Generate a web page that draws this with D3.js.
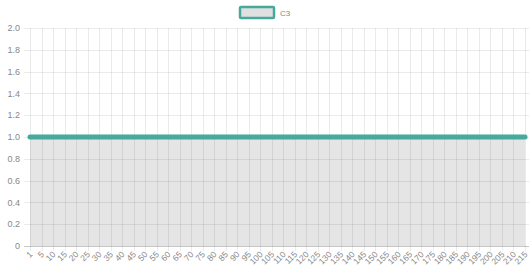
<!DOCTYPE html>
<html>
<head>
<meta charset="utf-8">
<script src="https://cdn.jsdelivr.net/npm/d3@7"></script>
<style>
  body { margin: 0; background: #fff; }
  svg { display: block; font-family: "Helvetica Neue", Helvetica, Arial, "Liberation Sans", sans-serif; }
</style>
</head>
<body>
<svg class="canvas"></svg>
<script>
// chart data
const labels = ["1", "5", "10", "15", "20", "25", "30", "35", "40", "45", "50", "55", "60", "65", "70",
  "75", "80", "85", "90", "95", "100", "105", "110", "115", "120", "125", "130", "135", "140", "145",
  "150", "155", "160", "165", "170", "175", "180", "185", "190", "195", "200", "205", "210", "215"];
const c3 = [1, 1, 1, 1, 1, 1, 1, 1, 1, 1, 1, 1, 1, 1, 1, 1, 1, 1, 1, 1, 1, 1,
  1, 1, 1, 1, 1, 1, 1, 1, 1, 1, 1, 1, 1, 1, 1, 1, 1, 1, 1, 1, 1, 1];
const yTicks = [0, 0.2, 0.4, 0.6, 0.8, 1.0, 1.2, 1.4, 1.6, 1.8, 2.0];
const seriesName = "C3";

const wWidth = 529, wHeight = 280;
const margin = {top: 28, right: 4, bottom: 34, left: 30};
const graphWidth = wWidth - margin.left - margin.right;
const graphHeight = wHeight - margin.top - margin.bottom;

const lineColor = "#46a99c";
const gridColor = "rgba(0,0,0,0.08)";
const textColor = "#888";

const svg = d3.select(".canvas").attr("width", wWidth).attr("height", wHeight);
const graph = svg.append("g").attr("transform", `translate(${margin.left}, ${margin.top})`);

const xScale = d3.scalePoint().domain(labels).range([0, graphWidth]);
const yScale = d3.scaleLinear().domain([0, 2]).range([graphHeight, 0]);

// horizontal grid
graph.append("g").selectAll("line").data(yTicks).enter().append("line")
  .attr("x1", -6).attr("x2", graphWidth + margin.right)
  .attr("y1", d => Math.round(yScale(d)) + 0.5).attr("y2", d => Math.round(yScale(d)) + 0.5)
  .attr("stroke", d => d === 0 ? "rgba(0,0,0,0.22)" : gridColor);

// vertical grid
graph.append("g").selectAll("line").data(labels).enter().append("line")
  .attr("x1", d => Math.round(xScale(d)) + 0.5).attr("x2", d => Math.round(xScale(d)) + 0.5)
  .attr("y1", 0).attr("y2", graphHeight + 5)
  .attr("stroke", gridColor);

// y labels
graph.append("g").selectAll("text").data(yTicks).enter().append("text")
  .attr("x", -10).attr("y", d => yScale(d)).attr("dy", "0.35em")
  .attr("text-anchor", "end").attr("font-size", 9).attr("fill", textColor)
  .text(d => d === 0 ? "0" : d3.format(".1f")(d));

// x labels, rotated
graph.append("g").selectAll("text").data(labels).enter().append("text")
  .attr("transform", d => `translate(${xScale(d) + 3}, ${graphHeight + 9}) rotate(-45)`)
  .attr("text-anchor", "end").attr("font-size", 8.5).attr("fill", textColor)
  .text(d => d);

// area under the line
const area = d3.area().x((d, i) => xScale(labels[i])).y0(yScale(0)).y1(d => yScale(d));
graph.append("path").datum(c3).attr("d", area).attr("fill", "rgba(0,0,0,0.1)");

const line = d3.line().x((d, i) => xScale(labels[i])).y(d => yScale(d));
graph.append("path").datum(c3).attr("d", line)
  .attr("fill", "none").attr("stroke", lineColor).attr("stroke-width", 5).attr("stroke-linecap", "round");

// legend
const legend = svg.append("g").attr("transform", "translate(240, 7)");
legend.append("rect").attr("x", 0).attr("y", 0).attr("width", 34).attr("height", 11)
  .attr("fill", "#e0e0e0").attr("stroke", lineColor).attr("stroke-width", 2.5).attr("rx", 1);
legend.append("text").attr("x", 40).attr("y", 6).attr("dy", "0.35em")
  .attr("font-size", 8).attr("fill", textColor).text(seriesName);
</script>
</body>
</html>
